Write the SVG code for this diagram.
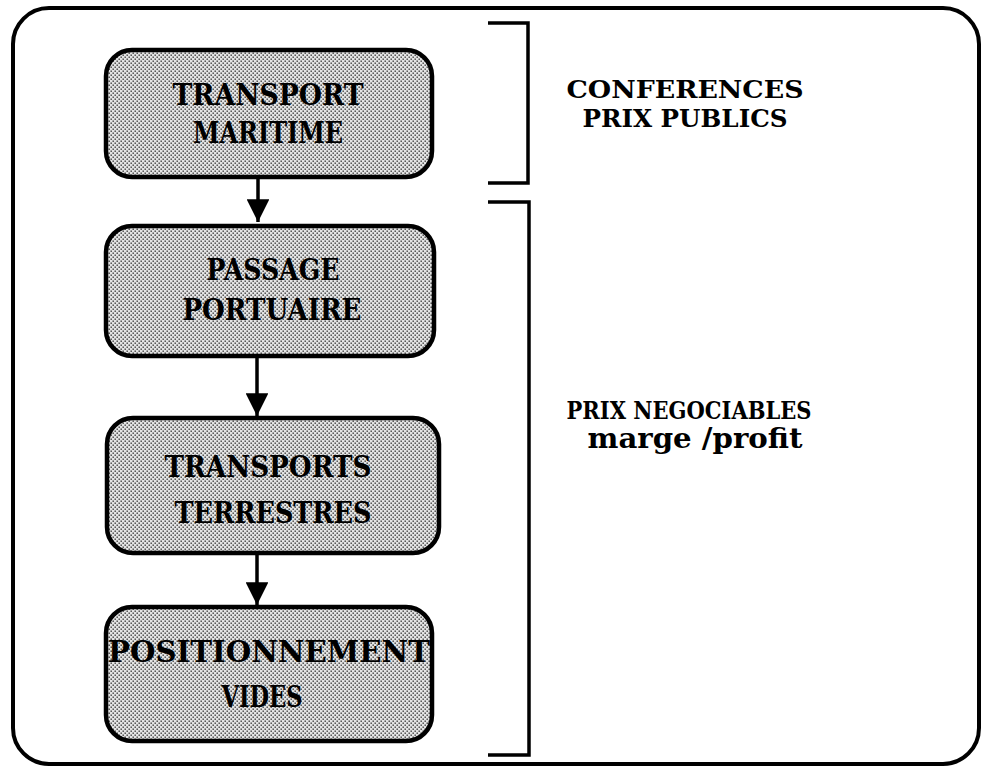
<svg xmlns="http://www.w3.org/2000/svg" width="987" height="771" viewBox="0 0 987 771">
  <style>
    .frame { fill: #ffffff; stroke: #000; stroke-width: 4; }
    .box { fill: url(#halftone); stroke: #000; stroke-width: 4.5; }
    .lbl { font-family: "DejaVu Serif", "Liberation Serif", serif; font-weight: bold; fill: #000; text-anchor: middle; }
    .node { font-size: 29px; }
    .side { font-size: 25px; }
    .wire { fill: none; stroke: #000; stroke-width: 3.5; }
    .brk { fill: none; stroke: #000; stroke-width: 3.5; }
  </style>
  <defs>
    <!-- screened grey fill used inside the boxes -->
    <pattern id="halftone" width="4" height="4" patternUnits="userSpaceOnUse">
      <rect width="4" height="4" fill="#e4e4e4"/>
      <rect x="0.5" y="0.5" width="1.4" height="1.4" fill="#3a3a3a"/>
      <rect x="2.5" y="2.5" width="1.4" height="1.4" fill="#3a3a3a"/>
    </pattern>
    <marker id="head" viewBox="0 0 10 10" refX="10" refY="5" markerWidth="6.5" markerHeight="6.5" orient="auto" markerUnits="strokeWidth">
      <path d="M0,0 L10,5 L0,10 Z" fill="#000"/>
    </marker>
  </defs>

  <rect class="frame" x="13" y="8" width="966" height="756" rx="36"/>

  <g id="connectors">
    <line class="wire" x1="258" y1="178" x2="258" y2="222" marker-end="url(#head)"/>
    <line class="wire" x1="257" y1="356" x2="257" y2="416" marker-end="url(#head)"/>
    <line class="wire" x1="257" y1="553" x2="257" y2="605" marker-end="url(#head)"/>
  </g>

  <g id="transport-maritime">
    <rect class="box" x="106" y="50" width="326" height="127" rx="26"/>
    <text class="lbl node" x="268" y="105" textLength="191" lengthAdjust="spacingAndGlyphs">TRANSPORT</text>
    <text class="lbl node" x="268" y="143" textLength="150" lengthAdjust="spacingAndGlyphs">MARITIME</text>
  </g>

  <g id="passage-portuaire">
    <rect class="box" x="106" y="226" width="328" height="130" rx="26"/>
    <text class="lbl node" x="273" y="280" textLength="133" lengthAdjust="spacingAndGlyphs">PASSAGE</text>
    <text class="lbl node" x="272" y="320" textLength="179" lengthAdjust="spacingAndGlyphs">PORTUAIRE</text>
  </g>

  <g id="transports-terrestres">
    <rect class="box" x="107" y="418" width="332" height="135" rx="26"/>
    <text class="lbl node" x="268" y="477" textLength="207" lengthAdjust="spacingAndGlyphs">TRANSPORTS</text>
    <text class="lbl node" x="273" y="523" textLength="197" lengthAdjust="spacingAndGlyphs">TERRESTRES</text>
  </g>

  <g id="positionnement-vides">
    <rect class="box" x="106" y="607" width="326" height="134" rx="26"/>
    <text class="lbl node" x="269" y="662" textLength="322" lengthAdjust="spacingAndGlyphs">POSITIONNEMENT</text>
    <text class="lbl node" x="262" y="707" textLength="81" lengthAdjust="spacingAndGlyphs">VIDES</text>
  </g>

  <g id="bracket-conferences">
    <path class="brk" d="M488,23 H528 V183 H488"/>
    <text class="lbl side" x="685" y="98" textLength="237" lengthAdjust="spacingAndGlyphs">CONFERENCES</text>
    <text class="lbl side" x="685" y="127" textLength="205" lengthAdjust="spacingAndGlyphs">PRIX PUBLICS</text>
  </g>

  <g id="bracket-negociables">
    <path class="brk" d="M488,202 H529 V755 H488"/>
    <text class="lbl side" x="689" y="419" textLength="245" lengthAdjust="spacingAndGlyphs">PRIX NEGOCIABLES</text>
    <text class="lbl" x="695" y="448" font-size="28" textLength="215" lengthAdjust="spacingAndGlyphs">marge /profit</text>
  </g>
</svg>
